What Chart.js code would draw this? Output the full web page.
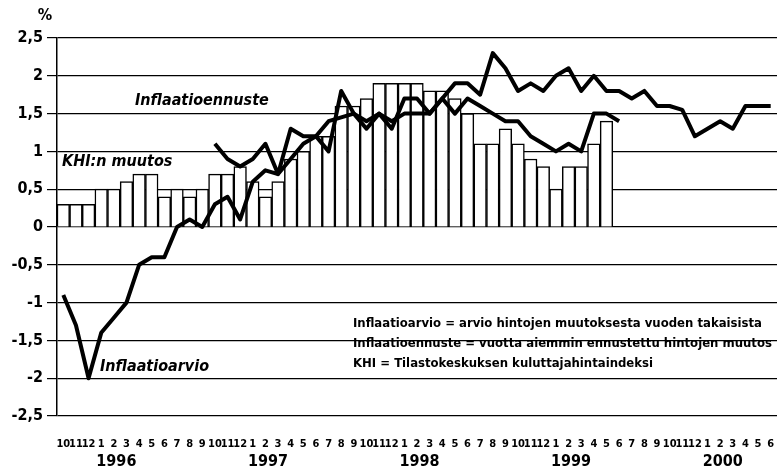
<!DOCTYPE html>
<html>
<head>
<meta charset="utf-8">
<script src="https://cdn.jsdelivr.net/npm/chart.js@4/dist/chart.umd.min.js"></script>
<style>
  html, body { margin: 0; padding: 0; background: #fff; }
  #wrap { width: 777px; height: 474px; position: relative; }
</style>
</head>
<body>
<div id="wrap"><canvas id="chart"></canvas></div>
<script>
// kuukaudet 10/1995 - 6/2000
const monthLabels = ['10','11','12',
  '1','2','3','4','5','6','7','8','9','10','11','12',
  '1','2','3','4','5','6','7','8','9','10','11','12',
  '1','2','3','4','5','6','7','8','9','10','11','12',
  '1','2','3','4','5','6','7','8','9','10','11','12',
  '1','2','3','4','5','6'];
const yearLabels = ['1996', '1997', '1998', '1999', '2000'];

// KHI:n muutos (pylväät) 10/1995 - 5/1999
const khiMuutos = [0.3, 0.3, 0.3, 0.5, 0.5, 0.6, 0.7, 0.7, 0.4, 0.5, 0.4, 0.5,
  0.7, 0.7, 0.8, 0.6, 0.4, 0.6, 0.9, 1.0, 1.2, 1.2, 1.6, 1.6, 1.7, 1.9, 1.9, 1.9, 1.9,
  1.8, 1.8, 1.7, 1.5, 1.1, 1.1, 1.3, 1.1, 0.9, 0.8, 0.5, 0.8, 0.8, 1.1, 1.4];

// Inflaatioarvio 10/1995 - 6/1999
const inflaatioarvio = [-0.9, -1.3, -2.0, -1.4, -1.2, -1.0, -0.5, -0.4, -0.4, 0.0, 0.1, 0.0,
  0.3, 0.4, 0.1, 0.6, 0.75, 0.7, 0.9, 1.1, 1.2, 1.4, 1.45, 1.5, 1.4, 1.5, 1.4, 1.5, 1.5,
  1.5, 1.7, 1.5, 1.7, 1.6, 1.5, 1.4, 1.4, 1.2, 1.1, 1.0, 1.1, 1.0, 1.5, 1.5, 1.4];

// Inflaatioennuste 10/1996 - 6/2000
const ennusteAlku = 12;
const inflaatioennuste = [1.1, 0.9, 0.8, 0.9, 1.1, 0.7, 1.3, 1.2, 1.2, 1.0,
  1.8, 1.5, 1.3, 1.5, 1.3, 1.7, 1.7,
  1.5, 1.7, 1.9, 1.9, 1.75, 2.3, 2.1,
  1.8, 1.9, 1.8, 2.0, 2.1, 1.8, 2.0, 1.8, 1.8,
  1.7, 1.8, 1.6, 1.6, 1.55, 1.2, 1.3, 1.4, 1.3, 1.6, 1.6, 1.6];

const yTicks = [-2.5, -2, -1.5, -1, -0.5, 0, 0.5, 1, 1.5, 2, 2.5];

const FONT = "'Liberation Sans Narrow', 'DejaVu Sans Condensed', 'Arial Narrow', sans-serif";

const ennusteData = new Array(ennusteAlku).fill(null).concat(inflaatioennuste);

// tekstit kuvan sisällä
const textPlugin = {
  id: 'texts',
  afterDraw(chart) {
    const ctx = chart.ctx;
    const x = chart.scales.x;
    ctx.save();
    ctx.fillStyle = '#000';
    ctx.textBaseline = 'middle';

    ctx.font = 'bold 16px ' + FONT;
    ctx.textAlign = 'center';
    ctx.fillText('%', 45, 16);

    // vuodet tammikuun kohdalta
    let jan = monthLabels.indexOf('1');
    ctx.font = 'bold 16px ' + FONT;
    yearLabels.forEach(function (yr) {
      ctx.fillText(yr, x.getPixelForValue(jan + 1.2), 462);
      jan += 12;
    });

    ctx.font = 'italic bold 16px ' + FONT;
    ctx.textAlign = 'left';
    ctx.fillText('Inflaatioennuste', 135, 101);
    ctx.fillText('KHI:n muutos', 62, 162);
    ctx.fillText('Inflaatioarvio', 100, 367);

    ctx.font = 'bold 13px ' + FONT;
    ctx.fillText('Inflaatioarvio = arvio hintojen muutoksesta vuoden takaisista', 353, 324);
    ctx.fillText('Inflaatioennuste = vuotta aiemmin ennustettu hintojen muutos', 353, 344);
    ctx.fillText('KHI = Tilastokeskuksen kuluttajahintaindeksi', 353, 364);
    ctx.restore();
  }
};

new Chart(document.getElementById('chart'), {
  type: 'bar',
  data: {
    labels: monthLabels,
    datasets: [
      {
        type: 'line',
        label: 'Inflaatioarvio',
        data: inflaatioarvio,
        borderColor: '#000',
        borderWidth: 4,
        pointRadius: 0,
        tension: 0,
        borderJoinStyle: 'round',
        order: 0
      },
      {
        type: 'line',
        label: 'Inflaatioennuste',
        data: ennusteData,
        borderColor: '#000',
        borderWidth: 4,
        pointRadius: 0,
        tension: 0,
        borderJoinStyle: 'round',
        spanGaps: false,
        order: 1
      },
      {
        type: 'bar',
        label: 'KHI:n muutos',
        data: khiMuutos,
        backgroundColor: '#fff',
        borderColor: '#000',
        borderWidth: 1.5,
        barPercentage: 1,
        categoryPercentage: 1,
        order: 2
      }
    ]
  },
  options: {
    responsive: true,
    maintainAspectRatio: false,
    animation: false,
    layout: { padding: { top: 38, right: 0, left: 0, bottom: 0 } },
    plugins: { legend: { display: false }, tooltip: { enabled: false } },
    scales: {
      x: {
        grid: { display: false },
        border: { display: false },
        ticks: {
          color: '#000', autoSkip: false, maxRotation: 0, minRotation: 0, padding: 14,
          font: { family: FONT, size: 11, weight: 'bold' }
        },
        afterFit: function (s) { s.height = 58; s.paddingLeft = 0; s.paddingRight = 0; }
      },
      y: {
        min: -2.5,
        max: 2.5,
        afterBuildTicks: function (s) { s.ticks = yTicks.map(v => ({ value: v })); },
        grid: { color: '#000', lineWidth: 1.2, tickLength: 10 },
        border: { color: '#000', width: 1.5 },
        ticks: {
          color: '#000', padding: 4,
          font: { family: FONT, size: 16, weight: 'bold' },
          callback: v => String(v).replace('.', ',')
        },
        afterFit: function (s) { s.width = 57; s.paddingTop = 0; s.paddingBottom = 0; }
      }
    }
  },
  plugins: [textPlugin]
});
</script>
</body>
</html>
